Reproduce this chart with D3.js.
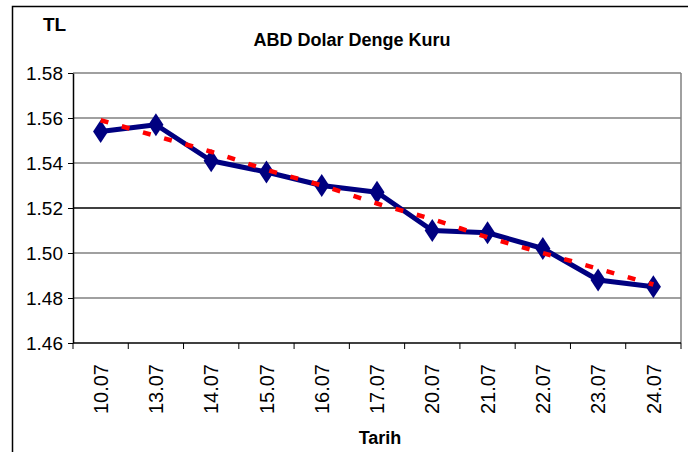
<!DOCTYPE html>
<html>
<head>
<meta charset="utf-8">
<script src="https://cdn.jsdelivr.net/npm/d3@7"></script>
<style>
    body { margin: 0; background: #fff; }
    text { font-family: "Liberation Sans", Arial, sans-serif; fill: #000; }
</style>
</head>
<body>
<svg id="chart"></svg>
<script>
        // DATA
        var dates = ["10.07", "13.07", "14.07", "15.07", "16.07", "17.07", "20.07", "21.07", "22.07", "23.07", "24.07"];
        var rates = [1.554, 1.557, 1.541, 1.536, 1.530, 1.527, 1.510, 1.509, 1.502, 1.488, 1.485];
        // trend line
        var trend = [1.559, 1.552, 1.545, 1.537, 1.530, 1.522, 1.515, 1.507, 1.500, 1.493, 1.486];
        var yTicks = [1.46, 1.48, 1.50, 1.52, 1.54, 1.56, 1.58];

        var width = 688,
            height = 452;

        // plot area
        var plotLeft = 73,
            plotRight = 681,
            plotTop = 73,
            plotBottom = 343;

        var chart = d3.select('#chart')
            .attr('width', width)
            .attr('height', height);

        // outer frame (runs off the right and bottom of the picture)
        chart.append('rect')
            .attr('x', 12.5)
            .attr('y', 6.5)
            .attr('width', 720)
            .attr('height', 520)
            .attr('fill', 'none')
            .attr('stroke', '#000')
            .attr('stroke-width', 1.5);

        var xScale = d3.scaleBand()
            .domain(dates)
            .range([plotLeft, plotRight]);

        var yScale = d3.scaleLinear()
            .domain([1.46, 1.58])
            .range([plotBottom, plotTop]);

        // horizontal grid lines
        chart.append('g')
            .attr('id', 'grid')
            .selectAll('line')
            .data(yTicks.filter(function(d) { return d > 1.46; }))
            .enter().append('line')
            .attr('x1', plotLeft)
            .attr('x2', plotRight)
            .attr('y1', function(d) { return yScale(d); })
            .attr('y2', function(d) { return yScale(d); })
            .attr('stroke', function(d) { return Math.abs(d - 1.52) < 1e-9 ? '#000' : '#808080'; })
            .attr('stroke-width', 1.5);

        // right edge of the plot area
        chart.append('line')
            .attr('x1', plotRight).attr('x2', plotRight)
            .attr('y1', plotTop).attr('y2', plotBottom)
            .attr('stroke', '#808080')
            .attr('stroke-width', 1.5);

        // y axis
        var yAxis = chart.append('g')
            .attr('id', 'y-axis')
            .attr('transform', 'translate(' + plotLeft + ',0)')
            .call(d3.axisLeft(yScale).tickValues(yTicks).tickSize(5).tickSizeOuter(0).tickPadding(5)
                .tickFormat(d3.format('.2f')));
        yAxis.selectAll('text')
            .style('font-size', '19px')
            .style('font-family', '"Liberation Sans", Arial, sans-serif');
        yAxis.select('.domain').attr('stroke', '#000').attr('stroke-width', 1.5);

        // x axis, ticks at the band edges
        var xAxis = chart.append('g')
            .attr('id', 'x-axis');
        xAxis.append('line')
            .attr('x1', plotLeft).attr('x2', plotRight)
            .attr('y1', plotBottom).attr('y2', plotBottom)
            .attr('stroke', '#000')
            .attr('stroke-width', 1.5);
        xAxis.selectAll('.tick-mark')
            .data(dates.concat(['end']))
            .enter().append('line')
            .attr('class', 'tick-mark')
            .attr('x1', function(d, i) { return i < dates.length ? xScale(d) : plotRight; })
            .attr('x2', function(d, i) { return i < dates.length ? xScale(d) : plotRight; })
            .attr('y1', plotBottom)
            .attr('y2', plotBottom + 6)
            .attr('stroke', '#000');

        xAxis.selectAll('.label')
            .data(dates)
            .enter().append('text')
            .attr('class', 'label')
            .attr('transform', function(d) {
                return 'translate(' + (xScale(d) + xScale.bandwidth() / 2) + ',' + (plotBottom + 21) + ') rotate(-90)';
            })
            .attr('text-anchor', 'end')
            .attr('dy', '0.36em')
            .style('font-size', '20px')
            .text(function(d) { return d; });

        // data line
        var line = d3.line()
            .x(function(d, i) { return xScale(dates[i]) + xScale.bandwidth() / 2; })
            .y(function(d) { return yScale(d); });

        chart.append('path')
            .datum(rates)
            .attr('d', line)
            .attr('fill', 'none')
            .attr('stroke', '#000080')
            .attr('stroke-width', 5)
            .attr('stroke-linejoin', 'round');

        chart.append('g')
            .selectAll('path')
            .data(rates)
            .enter().append('path')
            .attr('d', d3.symbol(d3.symbolDiamond, 150))
            .attr('transform', function(d, i) {
                return 'translate(' + (xScale(dates[i]) + xScale.bandwidth() / 2) + ',' + yScale(d) + ') scale(1.15,1)';
            })
            .attr('fill', '#000080');

        // red dashed trend
        chart.append('path')
            .datum(trend)
            .attr('d', line.curve(d3.curveMonotoneX))
            .attr('fill', 'none')
            .attr('stroke', '#ff0000')
            .attr('stroke-width', 4.5)
            .attr('stroke-dasharray', '8,14');

        // titles
        chart.append('text')
            .attr('x', 352)
            .attr('y', 46)
            .attr('text-anchor', 'middle')
            .style('font-size', '18px')
            .style('font-weight', 'bold')
            .text('ABD Dolar Denge Kuru');

        chart.append('text')
            .attr('x', 43)
            .attr('y', 31)
            .style('font-size', '19px')
            .style('font-weight', 'bold')
            .text('TL');

        chart.append('text')
            .attr('x', (plotLeft + plotRight) / 2 + 3)
            .attr('y', 444)
            .attr('text-anchor', 'middle')
            .style('font-size', '18px')
            .style('font-weight', 'bold')
            .text('Tarih');
</script>
</body>
</html>
